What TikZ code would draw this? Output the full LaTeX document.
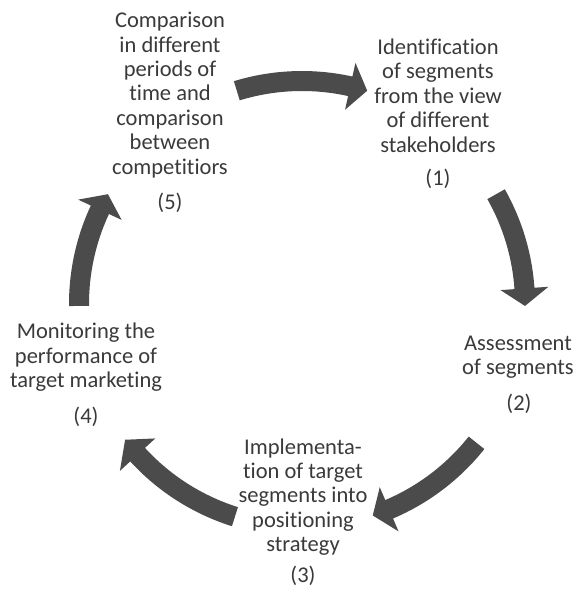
\documentclass[tikz,border=0pt]{standalone}
\usepackage{fontspec}
\setmainfont{Carlito}[Ligatures=NoCommon]
\usepackage{tikz}
\definecolor{arrowgray}{HTML}{4B4B4B}
\definecolor{textgray}{HTML}{3A3A3A}
\begin{document}
\begin{tikzpicture}[x=1pt, y=1pt,
    every node/.style = {align=center, inner sep=0pt, text=textgray,
                         font=\fontsize{22.5}{24.4}\selectfont},
    cyclearrow/.style = {fill=arrowgray}]
    \useasboundingbox (0,0) rectangle (576,-589);
    % steps
    \node (t1) at (438, -95.5) {Identification\\of segments\\from the view\\of different\\stakeholders};
    \node (n1) at (438, -179) {(1)};
    \node (t2) at (518, -357) {Assessment\\of segments};
    \node (n2) at (519, -404) {(2)};
    \node (t3) at (303, -497) {Implementa-\\tion of target\\segments into\\positioning\\strategy};
    \node (n3) at (303, -576) {(3)};
    \node (t4) at (86, -357.5) {Monitoring the\\performance of\\target marketing};
    \node (n4) at (86, -417) {(4)};
    \node (t5) at (170, -95) {Comparison\\in different\\periods of\\time and\\comparison\\between\\competitiors};
    \node (n5) at (170, -203) {(5)};
    % block arrows on the cycle
    \foreach \tail/\back/\tip in {107/77.5/73, 29.5/4/-0.5, -38.5/-67/-71.5,
                                  -107.5/-137.5/-142.5, 180.5/155/150.5}
      \fill[cyclearrow, shift={(302,-304)}]
        (\tail:233) arc[start angle=\tail, end angle=\back, radius=233]
        -- (\back:247) -- (\tip:223) -- (\back:199) -- (\back:213)
        arc[start angle=\back, end angle=\tail, radius=213] -- cycle;
\end{tikzpicture}
\end{document}
